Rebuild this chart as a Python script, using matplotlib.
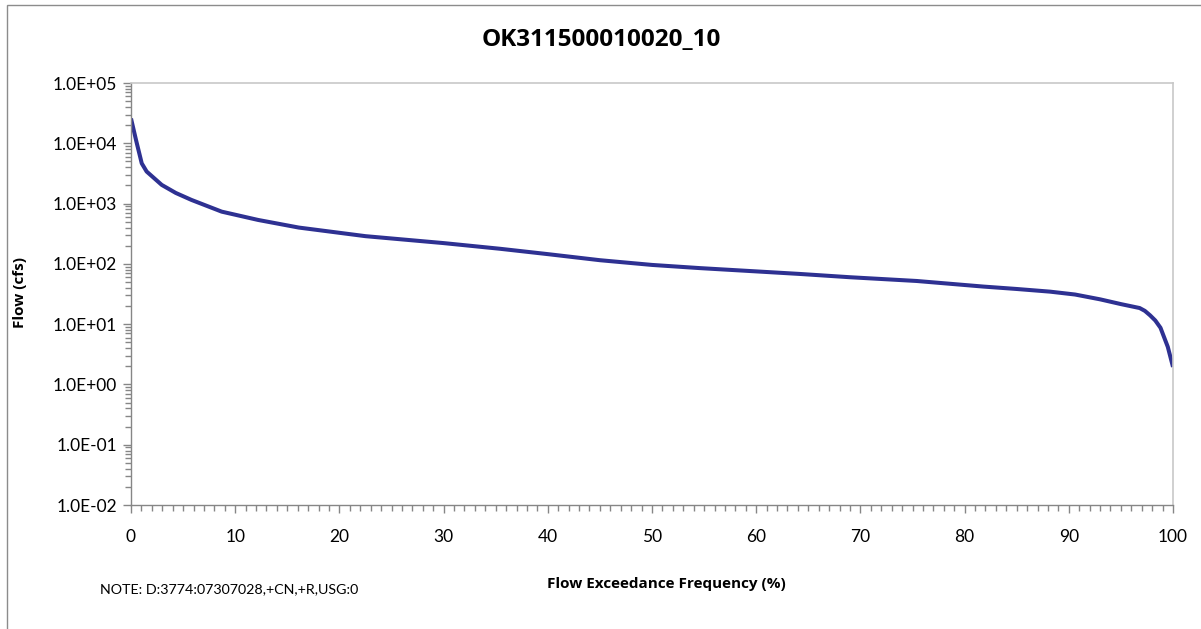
import numpy as np
import matplotlib
matplotlib.use("Agg")
import matplotlib.pyplot as plt
from matplotlib.ticker import FixedLocator, MultipleLocator, NullFormatter
from matplotlib.patches import Rectangle

plt.rcParams['font.family'] = ['Lato', 'DejaVu Sans']
BOLD_FONT = ['Open Sans', 'DejaVu Sans']

# flow duration curve
exceedance_pct = [0.0, 0.5, 1.03, 1.5, 2.95, 4.3, 5.8, 8.7, 12.2, 16.1, 22.5,
                  30.0, 35.4, 40.0, 45.0, 50.0, 54.6, 60.0, 64.2, 69.0, 75.4,
                  81.8, 85.0, 88.2, 90.6, 93.0, 95.0, 96.8, 97.3, 97.8, 98.3,
                  98.8, 99.5, 100.0]
flow_cfs = [25800, 11000, 4650, 3400, 2040, 1500, 1150, 735, 535, 400, 288,
            221, 178, 145, 115, 96, 85, 75, 68, 60, 52,
            42, 38.3, 34.6, 31, 25.8, 21.5, 18.5, 16.6, 14, 11.5,
            8.7, 4.2, 1.95]

title = "OK311500010020_10"
x_label = "Flow Exceedance Frequency (%)"
y_label = "Flow (cfs)"
note = "NOTE: D:3774:07307028,+CN,+R,USG:0"
y_ticks = [1e-2, 1e-1, 1e0, 1e1, 1e2, 1e3, 1e4, 1e5]
y_tick_labels = ["1.0E-02", "1.0E-01", "1.0E+00", "1.0E+01",
                 "1.0E+02", "1.0E+03", "1.0E+04", "1.0E+05"]

W, H = 1201, 629
fig = plt.figure(figsize=(W / 100, H / 100), dpi=100)

# outer chart border (only left and top visible in the crop)
fig.patches.append(Rectangle((7 / W, -0.1), 1.2, 1 - 5 / H + 0.1,
                             transform=fig.transFigure, fill=False,
                             edgecolor="#8c8c8c", linewidth=1.0))

ax = fig.add_axes([131 / W, 1 - 505 / H, (1173 - 131) / W, (505 - 83) / H])
ax.plot(exceedance_pct, flow_cfs, color="#2E3192", linewidth=2.9,
        solid_capstyle="butt", solid_joinstyle="round")

ax.set_yscale("log")
ax.set_xlim(0, 100)
ax.set_ylim(1e-2, 1e5)

ax.yaxis.set_major_locator(FixedLocator(y_ticks))
ax.set_yticklabels(y_tick_labels)
minor_y = [m * 10.0 ** e for e in range(-2, 5) for m in range(2, 10)]
ax.yaxis.set_minor_locator(FixedLocator(minor_y))
ax.yaxis.set_minor_formatter(NullFormatter())
ax.xaxis.set_major_locator(MultipleLocator(10))
ax.xaxis.set_minor_locator(FixedLocator([v for v in range(1, 100) if v % 10]))

for side in ["left", "bottom"]:
    ax.spines[side].set_color("#868686")
    ax.spines[side].set_linewidth(1.0)
for side in ["top", "right"]:
    ax.spines[side].set_color("#c8c8c8")
    ax.spines[side].set_linewidth(1.2)

ax.tick_params(axis="both", which="major", direction="out", length=6,
               width=1.0, color="#868686", labelsize=12.5, labelcolor="black")
ax.tick_params(axis="both", which="minor", direction="out", length=4,
               width=1.0, color="#868686")
ax.tick_params(axis="x", which="major", pad=11)
ax.tick_params(axis="y", which="major", pad=4)

fig.text(601 / W, 1 - 40 / H, title, ha="center", va="center",
         fontsize=17.5, fontweight="bold", family=BOLD_FONT)
fig.text(666 / W, 1 - 584 / H, x_label, ha="center", va="center",
         fontsize=11, fontweight="bold", family=BOLD_FONT)
fig.text(20 / W, 1 - 293 / H, y_label, ha="center", va="center",
         fontsize=11, fontweight="bold", rotation=90, family=BOLD_FONT)
fig.text(100 / W, 1 - 589 / H, note, ha="left", va="center", fontsize=10.3)

fig.savefig("out.png", dpi=100)
